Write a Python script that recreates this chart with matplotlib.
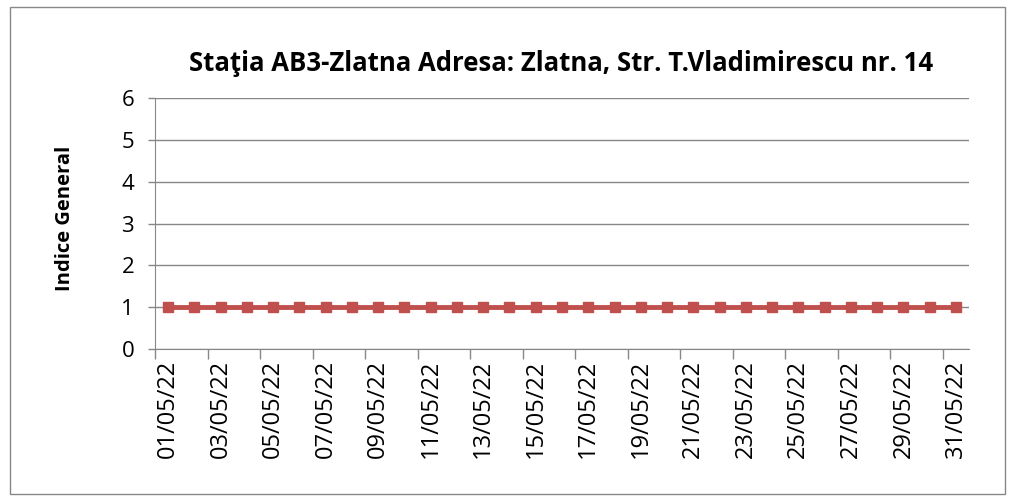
import numpy as np
import pandas as pd
import matplotlib
matplotlib.use("Agg")
import matplotlib.pyplot as plt
from matplotlib.patches import Rectangle

dates = pd.date_range("2022-05-01", "2022-05-31", freq="D")
labels = [d.strftime("%d/%m/%y") for d in dates]
indice = [1] * 31

plt.rcParams['font.family'] = ['Open Sans', 'DejaVu Sans']

fig = plt.figure(figsize=(10.11, 4.99), dpi=100)
fig.add_artist(Rectangle((0.01, 0.01), 0.984, 0.975, transform=fig.transFigure,
                         fill=False, edgecolor="#888888", linewidth=1))
ax = fig.add_axes([0.1533, 0.3006, 0.8052, 0.503])

x = np.arange(len(indice))
ax.plot(x, indice, color="#C0504D", linewidth=3.5, marker="s", markersize=7.5)

ax.set_xlim(-0.5, len(indice) - 0.5)
ax.set_ylim(0, 6)
ax.set_yticks(range(7))
ax.yaxis.grid(True, color="#878787", linewidth=1)
ax.set_axisbelow(True)

ax.set_xticks(np.arange(-0.5, len(indice), 2))
ax.set_xticklabels([])
ax.set_xticks(x[::2], minor=True)
ax.set_xticklabels(labels[::2], minor=True, rotation=90, fontsize=17)
ax.tick_params(axis="x", which="major", length=7, color="#878787", width=1)
ax.tick_params(axis="x", which="minor", length=0, pad=8)
ax.tick_params(axis="y", length=5, color="#878787", width=1, labelsize=16, pad=10)

for s in ["top", "right"]:
    ax.spines[s].set_visible(False)
for s in ["left", "bottom"]:
    ax.spines[s].set_color("#878787")

ax.set_ylabel("Indice General", fontsize=14.5, fontweight="bold")
ax.yaxis.set_label_coords(-0.098, 0.52)
fig.suptitle("Staţia AB3-Zlatna Adresa: Zlatna, Str. T.Vladimirescu nr. 14",
             fontsize=18.5, fontweight="bold", x=0.555, y=0.9)

fig.savefig("out.png", dpi=100)
